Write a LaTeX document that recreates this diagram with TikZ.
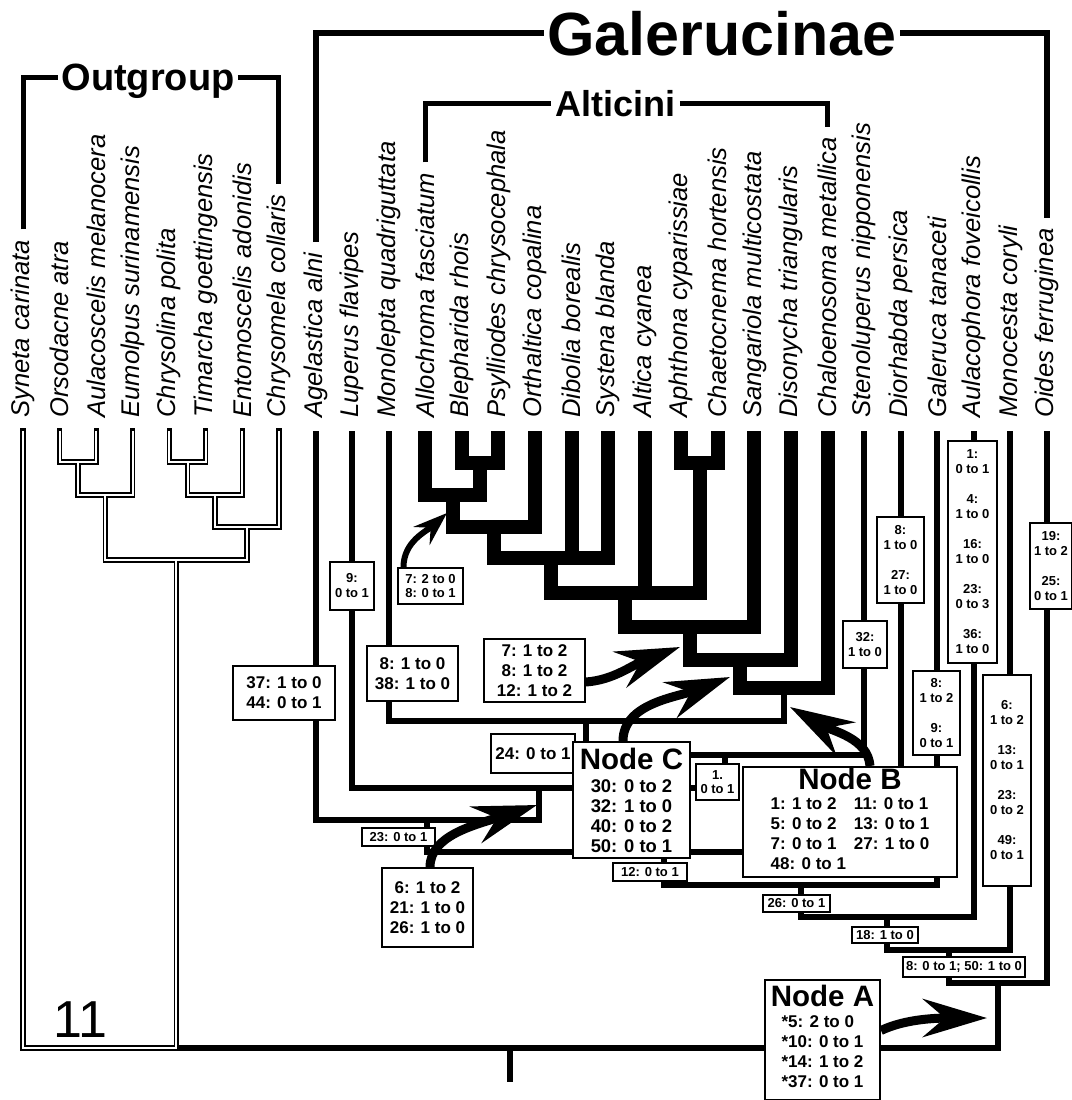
\documentclass[tikz,border=0pt]{standalone}
\usepackage{fontspec}
\setmainfont{Liberation Sans}
\usetikzlibrary{arrows.meta,calc}

\tikzset{
  taxon/.style={rotate=90, anchor=west, inner sep=0pt, font=\fontsize{12.8}{14}\selectfont\itshape},
  bracket/.style={line width=2.5pt},
  ogline/.style={line width=2.6pt, line cap=rect},
  ogcore/.style={white, line width=1pt},
  branch/.style={line width=3pt},
  altbranch/.style={line width=7pt},
  chbox/.style={draw, fill=white, line width=0.8pt, inner sep=0pt, align=center, font=\bfseries\fontsize{8.5}{10}\selectfont},
  smbox/.style={chbox, font=\bfseries\fontsize{6.5}{7.5}\selectfont},
  nodebox/.style={chbox, line width=1pt},
  bigarrow/.style={line width=4.5pt, -{Stealth[length=32pt,width=19pt,inset=11pt]}},
  smallarrow/.style={line width=3pt, -{Stealth[length=17pt,width=12pt,inset=6pt]}}
}
\newcommand{\nodehead}[1]{{\fontsize{14.75}{10}\selectfont #1}}

\begin{document}
\begin{tikzpicture}[x=0.5pt, y=-0.5pt]
    \path[fill=white, use as bounding box] (0,0) rectangle (1072,1100);

    % taxa
    \foreach \lab [count=\i from 0] in {Syneta carinata, Orsodacne atra, Aulacoscelis melanocera,
        Eumolpus surinamensis, Chrysolina polita, Timarcha goettingensis, Entomoscelis adonidis,
        Chrysomela collaris, Agelastica alni, Luperus flavipes, Monolepta quadriguttata,
        Allochroma fasciatum, Blepharida rhois, Psylliodes chrysocephala, Orthaltica copalina,
        Dibolia borealis, Systena blanda, Altica cyanea, Aphthona cyparissiae, Chaetocnema hortensis,
        Sangariola multicostata, Disonycha triangularis, Chaloenosoma metallica, Stenoluperus nipponensis,
        Diorhabda persica, Galeruca tanaceti, Aulacophora foveicollis, Monocesta coryli, Oides ferruginea} {
        \node[taxon] (t\i) at ({23+36.57*\i},418) {\lab};
        \coordinate (tip\i) at ({23+36.57*\i},431);
    }

    % group titles
    \node[font=\bfseries\fontsize{30.5}{32}\selectfont, text depth=0pt, inner sep=1.5pt] (galerucinae) at (722,33) {Galerucinae};
    \node[font=\bfseries\fontsize{19}{20}\selectfont, text depth=0pt, inner sep=1.5pt] (outgroup) at (148,77) {Outgroup};
    \node[font=\bfseries\fontsize{18}{20}\selectfont, text depth=0pt, inner sep=2pt] (alticini) at (615.5,103) {Alticini};
    \draw[bracket, line width=3pt] ([yshift=5pt]t8.east) |- (galerucinae.west);
    \draw[bracket, line width=3pt] (galerucinae.east) -| ([yshift=5pt]t28.east);
    \draw[bracket] ([yshift=5pt]t0.east) |- (outgroup.west);
    \draw[bracket] (outgroup.east) -| ([yshift=5pt]t7.east);
    \draw[bracket] ([yshift=5pt]t11.east) |- (alticini.west);
    \draw[bracket] (alticini.east) -| ([yshift=5pt]t22.east);

    % internal nodes
    \coordinate (o1) at (77.9,462);  \coordinate (o2) at (105.3,495);
    \coordinate (o3) at (187.6,462); \coordinate (o4) at (215,495);
    \coordinate (o5) at (247,527);   \coordinate (o6) at (176.2,560);
    \coordinate (ogbase) at (176.2,1048);
    \coordinate (a0) at (699.5,463); \coordinate (a1) at (480.1,463);
    \coordinate (a2) at (452.7,495); \coordinate (a3) at (493.8,527);
    \coordinate (a4) at (551,558);   \coordinate (a5) at (625.3,593);
    \coordinate (a6) at (689.8,627); \coordinate (a7) at (740.4,660);
    \coordinate (a8) at (784,688);
    \coordinate (g1) at (586.4,721); \coordinate (g2) at (725.2,755);
    \coordinate (g3) at (538.7,788); \coordinate (g4) at (427.1,820);
    \coordinate (g5) at (663.9,852); \coordinate (g6) at (800.6,885);
    \coordinate (g7) at (887.2,917); \coordinate (g8) at (948.8,950);
    \coordinate (g9) at (997.9,983);
    \coordinate (root) at (510,1048); \coordinate (rootend) at (510,1082);

    % ingroup branches
    \draw[branch] (tip10) |- (g1) -| (a8)
        (g1) |- (g2) -| (tip23)
        (g2) |- (g3) -| (tip9)
        (g3) |- (g4) -| (tip8)
        (g4) |- (g5) -| (tip24)
        (g5) |- (g6) -| (tip25)
        (g6) |- (g7) -| (tip26)
        (g7) |- (g8) -| (tip27)
        (g8) |- (g9) -| (tip28)
        (g9) |- (ogbase);
    \draw[branch] (root) -- (rootend);

    % Alticini
    \draw[altbranch] (tip12) |- (a1) -| (tip13)
        (tip11) |- (a2) -| (a1)
        (a2) |- (a3) -| (tip14)
        (a3) |- (a4) -| (tip16)
        (tip15) -- (tip15 |- a4)
        (tip18) |- (a0) -| (tip19)
        (a4) |- (a5) -| (a0)
        (tip17) -- (tip17 |- a5)
        (a5) |- (a6) -| (tip20)
        (a6) |- (a7) -| (tip21)
        (a7) |- (a8) -| (tip22);

    % outgroup (outlined branches)
    \foreach \st in {ogline,ogcore} {
        \draw[\st] (tip1) |- (o1) -| (tip2)
            (o1) |- (o2) -| (tip3)
            (tip4) |- (o3) -| (tip5)
            (o3) |- (o4) -| (tip6)
            (o4) |- (o5) -| (tip7)
            (o2) |- (o6) -| (o5)
            (o6) -- (ogbase) -| (tip0);
    }
    \node[font=\fontsize{26}{28}\selectfont] (eleven) at (80,1020) {11};

    % character boxes
    \node[chbox, minimum width=51pt, minimum height=27pt] (b37) at (284,693) {37: 1 to 0\\44: 0 to 1};
    \node[smbox, minimum width=22pt, minimum height=24pt] (b9) at (352,586) {9:\\0 to 1};
    \node[chbox, minimum width=45.5pt, minimum height=27.5pt] (b8) at (412.5,673.5) {8: 1 to 0\\38: 1 to 0};
    \node[smbox, font=\bfseries\fontsize{6.5}{7.2}\selectfont, minimum width=32.5pt, minimum height=18pt] (b7a) at (430.5,586) {7: 2 to 0\\8: 0 to 1};
    \node[chbox, minimum width=50.5pt, minimum height=31.5pt] (b7b) at (534.5,670.5) {7: 1 to 2\\8: 1 to 2\\12: 1 to 2};
    \node[chbox, minimum width=42pt, minimum height=19.5pt] (b24) at (533,753.5) {24: 0 to 1};
    \node[nodebox, font=\bfseries\fontsize{9.2}{10}\selectfont, minimum width=58.5pt, minimum height=58pt] (nodeC) at (631.5,800)
        {\nodehead{Node C}\\[1.5pt]30: 0 to 2\\32: 1 to 0\\40: 0 to 2\\50: 0 to 1};
    \node[smbox, font=\bfseries\fontsize{6.5}{6.8}\selectfont, minimum width=21.5pt, minimum height=18pt] (b1) at (717.5,782) {1.\\0 to 1};
    \node[nodebox, minimum width=107pt, minimum height=55pt] (nodeB) at (850,822)
        {\nodehead{Node B}\\\begin{tabular}[t]{@{}l@{\hspace{4pt}}l@{}}1: 1 to 2 & 11: 0 to 1\\5: 0 to 2 & 13: 0 to 1\\7: 0 to 1 & 27: 1 to 0\\48: 0 to 1 & \end{tabular}};
    \node[smbox, minimum width=37pt, minimum height=9pt] (b12) at (650,872) {12: 0 to 1};
    \node[smbox, minimum width=36.5pt, minimum height=9pt] (b23) at (398.5,837) {23: 0 to 1};
    \node[smbox, minimum width=33.5pt, minimum height=8.5pt] (b26) at (796.5,903.5) {26: 0 to 1};
    \node[smbox, minimum width=33pt, minimum height=8pt] (b18) at (885,935) {18: 1 to 0};
    \node[smbox, minimum width=61pt, minimum height=10pt] (b850) at (964,967) {8: 0 to 1; 50: 1 to 0};
    \node[chbox, minimum width=45.5pt, minimum height=39.5pt] (b6) at (427.5,907.5) {6: 1 to 2\\21: 1 to 0\\26: 1 to 0};
    \node[nodebox, minimum width=57.5pt, minimum height=60pt] (nodeA) at (822.5,1039.5)
        {\nodehead{Node A}\\[0.5pt]\begin{tabular}[t]{@{}l@{}}{*}5: 2 to 0\\{*}10: 0 to 1\\{*}14: 1 to 2\\{*}37: 0 to 1\end{tabular}};
    \node[smbox, minimum width=22pt, minimum height=23.5pt] (b32) at (865,644.5) {32:\\1 to 0};
    \node[smbox, minimum width=23.5pt, minimum height=43pt] (bdio) at (900.5,560) {8:\\1 to 0\\[7.5pt]27:\\1 to 0};
    \node[smbox, minimum width=23.5pt, minimum height=42pt] (bgal) at (936.5,713) {8:\\1 to 2\\[7.5pt]9:\\0 to 1};
    \node[smbox, minimum width=24.5pt, minimum height=111pt] (baul) at (972.5,552)
        {1:\\0 to 1\\[7.5pt]4:\\1 to 0\\[7.5pt]16:\\1 to 0\\[7.5pt]23:\\0 to 3\\[7.5pt]36:\\1 to 0};
    \node[smbox, minimum width=24pt, minimum height=105.5pt] (bmon) at (1007,780.5)
        {6:\\1 to 2\\[7.5pt]13:\\0 to 1\\[7.5pt]23:\\0 to 2\\[7.5pt]49:\\0 to 1};
    \node[smbox, minimum width=21pt, minimum height=43pt] (boid) at (1051,566) {19:\\1 to 2\\[7.5pt]25:\\0 to 1};

    % arrows to the nodes they mark
    \coordinate (aimA) at (987,1018);
    \coordinate (aimB) at (790,707);
    \coordinate (aimC) at (730,677);
    \coordinate (aim7a) at (447,513);
    \coordinate (aim7b) at (680,647);
    \coordinate (aim6) at (537,805);
    \draw[smallarrow] ([xshift=-13.5pt]b7a.north) .. controls +(0,-26) and +(-20,18) .. (aim7a);
    \draw[bigarrow] ([yshift=-5.75pt]b7b.east) .. controls +(28,-2) and +(-48,18) .. (aim7b);
    \draw[bigarrow] ([xshift=-4.25pt]nodeC.north) .. controls +(0,-38) and +(-52,20) .. (aimC);
    \draw[bigarrow] ([xshift=10pt]nodeB.north) .. controls +(-2,-28) and +(42,24) .. (aimB);
    \draw[bigarrow] ([xshift=1.25pt]b6.north) .. controls +(0,-32) and +(-62,20) .. (aim6);
    \draw[bigarrow] ([yshift=4.5pt]nodeA.east) .. controls +(25,-12) and +(-48,0) .. (aimA);
\end{tikzpicture}
\end{document}
